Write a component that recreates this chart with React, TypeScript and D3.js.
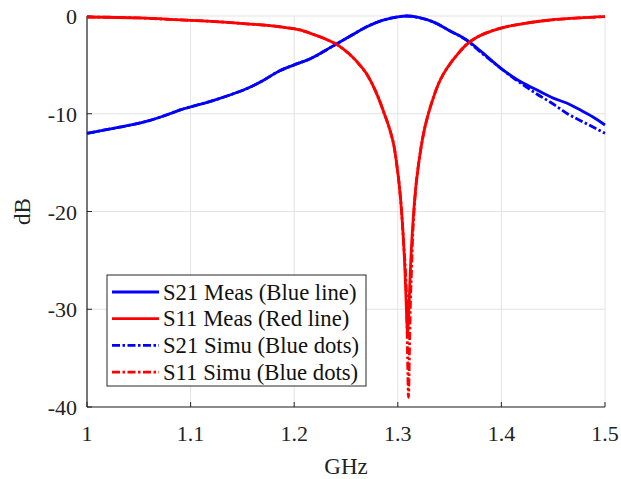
import React from "react";
import * as d3 from "d3";

// ---- data ----
const s21Meas: [number, number][] = [
  [1.0, -12.0], [1.02, -11.6], [1.04, -11.2], [1.06, -10.7], [1.08, -10.0], [1.09, -9.6],
  [1.1, -9.3], [1.12, -8.7], [1.14, -8.0], [1.155, -7.4], [1.17, -6.6], [1.186, -5.6],
  [1.2, -5.0], [1.215, -4.4], [1.237, -3.1], [1.255, -2.0], [1.27, -1.1], [1.285, -0.45],
  [1.3, -0.08], [1.309, 0.0], [1.32, -0.15], [1.334, -0.6], [1.35, -1.5], [1.3665, -2.45],
  [1.38, -3.6], [1.399, -5.3], [1.415, -6.5], [1.433, -7.5], [1.45, -8.4], [1.463, -8.9],
  [1.476, -9.6], [1.488, -10.3], [1.5, -11.15],
];
const s11Meas: [number, number][] = [
  [1.0, -0.1], [1.05, -0.2], [1.09, -0.4], [1.12, -0.55], [1.154, -0.8], [1.186, -1.1],
  [1.2056, -1.43], [1.22, -1.94], [1.231, -2.39], [1.2425, -3.0], [1.253, -3.87], [1.264, -5.1],
  [1.27, -5.94], [1.2755, -7.0], [1.281, -8.3], [1.287, -10.0], [1.2925, -11.7], [1.2965, -13.4],
  [1.2995, -15.6], [1.3015, -17.4], [1.3035, -19.8], [1.3045, -21.3], [1.3055, -23.0],
  [1.3065, -25.1], [1.3075, -27.7], [1.3085, -30.6], [1.3095, -32.4], [1.3105, -30.6],
  [1.3115, -27.7], [1.3125, -25.1], [1.3135, -23.0], [1.3145, -21.3], [1.3155, -19.8],
  [1.3175, -17.4], [1.3195, -15.6], [1.3225, -13.4], [1.3255, -11.7], [1.3295, -10.0],
  [1.3345, -8.3], [1.339, -7.0], [1.344, -5.94], [1.349, -5.11], [1.358, -3.87], [1.3665, -2.9],
  [1.376, -2.2], [1.385, -1.75], [1.3987, -1.26], [1.42, -0.8], [1.447, -0.41], [1.475, -0.2],
  [1.5, -0.07],
];
const s21Simu: [number, number][] = [
  [1.0, -12.0], [1.02, -11.6], [1.04, -11.2], [1.06, -10.7], [1.08, -10.0], [1.09, -9.6],
  [1.1, -9.3], [1.12, -8.7], [1.14, -8.0], [1.155, -7.4], [1.17, -6.6], [1.186, -5.6],
  [1.2, -5.0], [1.215, -4.4], [1.237, -3.1], [1.255, -2.0], [1.27, -1.1], [1.285, -0.45],
  [1.3, -0.08], [1.309, 0.0], [1.32, -0.15], [1.334, -0.6], [1.35, -1.5], [1.3665, -2.5],
  [1.38, -3.7], [1.4, -5.4], [1.415, -6.6], [1.433, -7.9], [1.45, -9.0], [1.463, -9.95],
  [1.48, -10.9], [1.5, -12.0],
];
const s11Simu: [number, number][] = [
  [1.0, -0.1], [1.05, -0.2], [1.09, -0.4], [1.12, -0.55], [1.154, -0.8], [1.186, -1.1],
  [1.2056, -1.43], [1.22, -1.94], [1.231, -2.39], [1.2425, -3.0], [1.253, -3.87], [1.264, -5.1],
  [1.27, -5.94], [1.2755, -7.0], [1.281, -8.3], [1.287, -10.0], [1.2925, -11.7], [1.2965, -13.4],
  [1.2995, -15.6], [1.3015, -17.4], [1.3035, -19.8], [1.3045, -21.3], [1.3055, -23.0],
  [1.3065, -24.6], [1.3075, -26.2], [1.3085, -29.0], [1.3093, -34.0], [1.3103, -39.0],
  [1.3113, -34.0], [1.3123, -29.0], [1.3133, -25.8], [1.3145, -22.2], [1.3155, -20.3],
  [1.3175, -17.4], [1.3195, -15.6], [1.3225, -13.4], [1.3255, -11.7], [1.3295, -10.0],
  [1.3345, -8.3], [1.339, -7.0], [1.344, -5.94], [1.349, -5.11], [1.358, -3.87], [1.3665, -2.9],
  [1.376, -2.2], [1.385, -1.75], [1.3987, -1.26], [1.42, -0.8], [1.447, -0.41], [1.475, -0.2],
  [1.5, -0.07],
];
const xTicks = [1, 1.1, 1.2, 1.3, 1.4, 1.5];
const yTicks = [0, -10, -20, -30, -40];
const legendLabels = [
  "S21 Meas (Blue line)",
  "S11 Meas (Red line)",
  "S21 Simu (Blue dots)",
  "S11 Simu (Blue dots)",
];

const BLUE = "#0000ff";
const RED = "#ff0000";
const DASH = "8,2.5,2.5,2.5";

export default function App() {
  const W = 621, H = 479;
  const x = d3.scaleLinear().domain([1, 1.5]).range([87, 605]);
  const y = d3.scaleLinear().domain([-40, 0]).range([407, 16]);
  const line = d3
    .line<[number, number]>()
    .x((d) => x(d[0]))
    .y((d) => y(d[1]))
    .curve(d3.curveMonotoneX);

  const series = [
    { data: s21Meas, color: BLUE, dash: undefined as string | undefined },
    { data: s11Meas, color: RED, dash: undefined },
    { data: s21Simu, color: BLUE, dash: DASH },
    { data: s11Simu, color: RED, dash: DASH },
  ];
  const font = "'Liberation Serif', 'Times New Roman', serif";
  const axisColor = "#262626";
  const gridColor = "#e3e3e3";
  const [x0, x1] = x.range();
  const [y0, y1] = y.range();

  return (
    <svg
      width={W}
      height={H}
      style={{ position: "absolute", left: 0, top: 0, background: "#fff" }}
      fontFamily={font}
    >
      <rect x={0} y={0} width={W} height={H} fill="#fff" />
      {/* grid */}
      {xTicks.map((t) => (
        <line key={"gx" + t} x1={x(t)} x2={x(t)} y1={y1} y2={y0} stroke={gridColor} strokeWidth={1} />
      ))}
      {yTicks.map((t) => (
        <line key={"gy" + t} x1={x0} x2={x1} y1={y(t)} y2={y(t)} stroke={gridColor} strokeWidth={1} />
      ))}
      {/* axes */}
      <line x1={x0} x2={x0} y1={y1} y2={y0} stroke={axisColor} strokeWidth={1.2} />
      <line x1={x0} x2={x1} y1={y0} y2={y0} stroke={axisColor} strokeWidth={1.2} />
      {xTicks.map((t) => (
        <g key={"xt" + t}>
          <line x1={x(t)} x2={x(t)} y1={y0} y2={y0 - 5} stroke={axisColor} strokeWidth={1} />
          <text x={x(t)} y={y0 + 34} fontSize={22} textAnchor="middle" fill="#222">
            {String(t)}
          </text>
        </g>
      ))}
      {yTicks.map((t) => (
        <g key={"yt" + t}>
          <line x1={x0} x2={x0 + 5} y1={y(t)} y2={y(t)} stroke={axisColor} strokeWidth={1} />
          <text x={x0 - 10} y={y(t) + 8} fontSize={22} textAnchor="end" fill="#222">
            {String(t)}
          </text>
        </g>
      ))}
      <text x={(x0 + x1) / 2} y={474} fontSize={23} textAnchor="middle" fill="#222">
        GHz
      </text>
      <text
        transform={`translate(30, ${(y0 + y1) / 2}) rotate(-90)`}
        fontSize={23}
        textAnchor="middle"
        fill="#222"
      >
        dB
      </text>
      {/* series */}
      {series.map((s, i) => (
        <path
          key={"s" + i}
          d={line(s.data) || ""}
          fill="none"
          stroke={s.color}
          strokeWidth={2.8}
          strokeDasharray={s.dash}
          strokeLinejoin="round"
        />
      ))}
      {/* legend */}
      <rect x={107} y={275} width={259} height={111} fill="#fff" stroke="#262626" strokeWidth={1} />
      {legendLabels.map((lab, i) => {
        const cy = 292 + i * 26.7;
        return (
          <g key={"lg" + i}>
            <line
              x1={112}
              x2={159}
              y1={cy}
              y2={cy}
              stroke={series[i].color}
              strokeWidth={2.8}
              strokeDasharray={series[i].dash}
            />
            <text x={163} y={cy + 7.5} fontSize={22.7} fill="#111">
              {lab}
            </text>
          </g>
        );
      })}
    </svg>
  );
}
